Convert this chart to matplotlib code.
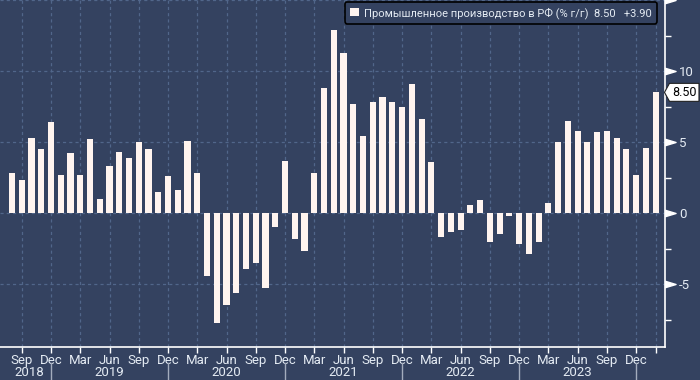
import numpy as np
import pandas as pd
import matplotlib
matplotlib.use('Agg')
import matplotlib.pyplot as plt
import matplotlib.transforms as mtransforms
from matplotlib.path import Path
from matplotlib.patches import Patch

# monthly industrial production, % y/y (Aug 2018 .. Feb 2024)
months = pd.date_range('2018-08-01', periods=67, freq='MS')
values = [
    2.8, 2.3, 5.3, 4.5, 6.4,                                          # 2018
    2.7, 4.2, 2.7, 5.2, 1.0, 3.3, 4.3, 3.9, 5.0, 4.5, 1.5, 2.6,       # 2019
    1.6, 5.1, 2.8, -4.4, -7.7, -6.5, -5.6, -3.9, -3.5, -5.3, -1.0, 3.7,  # 2020
    -1.8, -2.7, 2.8, 8.8, 12.9, 11.3, 7.7, 5.4, 7.8, 8.2, 7.8, 7.5,   # 2021
    9.1, 6.6, 3.6, -1.7, -1.3, -1.2, 0.6, 0.9, -2.0, -1.5, -0.2, -2.2,  # 2022
    -2.9, -2.0, 0.7, 5.0, 6.5, 5.8, 5.0, 5.7, 5.8, 5.3, 4.5, 2.7,     # 2023
    4.6, 8.5,                                                          # 2024
]
series_name = 'Промышленное производство в РФ (% г/г)'
last_value = '8.50'
last_change = '+3.90'
y_ticks = [-5, 0, 5, 10, 15]
y_labels = ['-5', '0', '5', '10', '']

bg = '#344260'
bar_color = '#fff4ef'
grid_color = '#51668a'
txt = '#e4ebf3'

plt.rcParams['font.family'] = ['Roboto', 'DejaVu Sans']
plt.rcParams['axes.unicode_minus'] = False

fig = plt.figure(figsize=(7, 3.8), dpi=100, facecolor=bg)
ax = fig.add_axes([0, 33.3 / 380, 665 / 700, 346.7 / 380])
ax.set_facecolor(bg)

x = np.arange(len(values))
ax.bar(x, values, width=0.62, color=bar_color, zorder=3)

ax.set_xlim(-1.23, len(values) - 1 + 0.97)
ax.set_ylim(-9.4, 15)

# x ticks: quarters + last month
q_idx = [i for i, m in enumerate(months) if m.month in (3, 6, 9, 12)]
ax.set_xticks(q_idx + [x[-1]])
ax.set_xticklabels([months[i].strftime('%b') for i in q_idx] + [''])
ax.tick_params(axis='x', colors='white', labelcolor=txt, labelsize=9.5,
               length=4, width=1, pad=1)

# y axis on the right
ax.yaxis.tick_right()
ax.set_yticks(y_ticks)
ax.set_yticklabels(y_labels)
ax.set_yticks([-7.5, -2.5, 2.5, 7.5, 12.5], minor=True)
ax.tick_params(axis='y', which='major', length=0, pad=10, labelcolor=txt, labelsize=9.5)
ax.tick_params(axis='y', which='minor', length=4, width=1, colors='white')

trans_y = mtransforms.blended_transform_factory(ax.transAxes, ax.transData)
ax.plot([1.0075] * len(y_ticks), y_ticks, transform=trans_y, clip_on=False,
        linestyle='none', marker=[(-5, -3), (5, 0), (-5, 3)], markersize=8,
        color='white', zorder=5)

ax.grid(True, color=grid_color, linestyle=(0, (2.5, 2.5)), linewidth=0.9)
ax.set_axisbelow(True)

for s in ['left', 'top']:
    ax.spines[s].set_visible(False)
ax.spines['bottom'].set_color('white')
ax.spines['right'].set_color('white')
ax.spines['bottom'].set_linewidth(1.2)
ax.spines['right'].set_linewidth(1.2)

# year row
trans_x = mtransforms.blended_transform_factory(ax.transData, ax.transAxes)
years = sorted(set(m.year for m in months))
for yr in years[:-1]:
    idx = [i for i, m in enumerate(months) if m.year == yr]
    jun = [i for i in idx if months[i].month == 6]
    pos = jun[0] if jun else np.mean(idx) - 0.25
    ax.text(pos, -0.075, str(yr), transform=trans_x, ha='center', va='center',
            color=txt, fontsize=9.5)
for i, m in enumerate(months):
    if m.month == 12:
        ax.plot([i, i], [-0.047, -0.1], transform=trans_x, clip_on=False,
                color='#a3acbd', linewidth=1)

# last value tag
def tag_shape(x0, y0, width, height, mutation_size):
    pad = 0.2 * mutation_size
    tip = 0.4 * mutation_size
    x1 = x0 + width + pad
    y1 = y0 + height + pad
    x0 -= pad
    y0 -= pad
    ym = (y0 + y1) / 2
    return Path([(x0 - tip, ym), (x0, y0), (x1, y0), (x1, y1), (x0, y1), (x0 - tip, ym)],
                closed=True)

ax.text(1.0105, values[-1], last_value, transform=trans_y, ha='left', va='center',
        color='black', fontsize=9, clip_on=False, zorder=6,
        bbox=dict(boxstyle=tag_shape, fc='white', ec='#222222', lw=0.8))

# legend
label = f'{series_name}  {last_value}   {last_change}'
leg = ax.legend([Patch(facecolor=bar_color, edgecolor='none')], [label],
                loc='upper right', bbox_to_anchor=(657 / 665, 1 - 2 / 346.7),
                frameon=True, fancybox=True, facecolor=bg, edgecolor='black',
                fontsize=8, labelcolor=txt, handlelength=0.8, handleheight=0.8,
                handletextpad=0.5, borderpad=0.45, borderaxespad=0)
leg.get_frame().set_linewidth(1.2)
leg.get_frame().set_alpha(1)

fig.savefig('out.png', dpi=100, facecolor=bg)
